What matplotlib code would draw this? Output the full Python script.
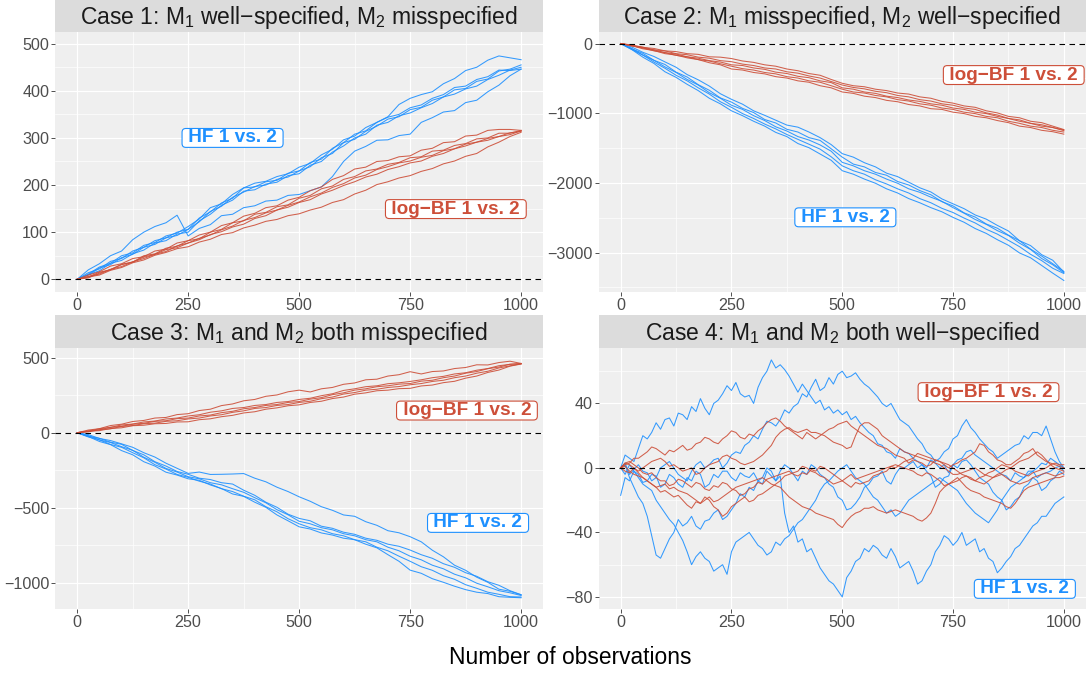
import numpy as np
import matplotlib
matplotlib.use("Agg")
import matplotlib.pyplot as plt

plt.rcParams['font.family'] = ['Liberation Sans', 'DejaVu Sans']
plt.rcParams['mathtext.fontset'] = 'custom'
plt.rcParams['mathtext.rm'] = 'Liberation Sans'
plt.rcParams['mathtext.it'] = 'Liberation Sans:italic'
plt.rcParams['mathtext.bf'] = 'Liberation Sans:bold'

# ---------------- data ----------------
# Panels 1-3: values every 25 observations (0..1000); panel 4: every 10 observations
p1_hf = [
    [0, 14, 22, 38, 44, 60, 68, 82, 88, 100, 106, 130, 143, 162, 172, 194, 196, 207, 210, 225, 230, 248, 255, 278, 290, 308, 315, 333, 345, 371, 384, 392, 398, 415, 426, 443, 450, 465, 474, 470, 466],
    [0, 9, 24, 31, 46, 53, 68, 74, 88, 93, 106, 122, 144, 155, 174, 185, 197, 200, 212, 217, 230, 239, 258, 267, 290, 297, 314, 325, 340, 345, 360, 365, 380, 387, 402, 405, 420, 425, 442, 446, 455],
    [0, 10, 18, 34, 40, 54, 62, 77, 82, 96, 100, 124, 138, 157, 168, 187, 190, 202, 206, 220, 224, 242, 250, 270, 283, 300, 308, 327, 333, 347, 353, 364, 373, 387, 393, 404, 410, 424, 433, 444, 450],
    [0, 11, 26, 34, 50, 56, 72, 78, 92, 98, 112, 128, 152, 160, 180, 194, 204, 208, 218, 224, 238, 246, 264, 276, 296, 304, 322, 333, 344, 350, 364, 370, 384, 392, 407, 410, 424, 430, 444, 443, 446],
    [0, 20, 33, 50, 60, 84, 100, 112, 120, 136, 92, 108, 116, 135, 138, 152, 156, 166, 168, 178, 180, 188, 196, 218, 250, 272, 282, 295, 296, 305, 308, 333, 343, 355, 358, 375, 380, 398, 412, 432, 446],
]
p1_bf = [
    [0, 9, 16, 28, 33, 44, 48, 60, 64, 77, 82, 94, 100, 114, 120, 134, 140, 152, 156, 168, 174, 188, 196, 212, 220, 234, 238, 250, 252, 260, 262, 274, 278, 290, 292, 304, 306, 316, 318, 318, 316],
    [0, 5, 15, 20, 32, 36, 50, 54, 66, 70, 82, 86, 100, 106, 120, 124, 138, 142, 154, 158, 172, 178, 192, 198, 212, 218, 230, 234, 244, 248, 258, 260, 272, 274, 284, 288, 298, 300, 310, 310, 316],
    [0, 6, 11, 21, 27, 37, 44, 53, 59, 71, 77, 87, 94, 105, 113, 125, 131, 141, 147, 157, 164, 175, 183, 195, 203, 215, 221, 233, 239, 247, 251, 259, 263, 273, 277, 287, 291, 299, 303, 311, 314],
    [0, 3, 13, 21, 31, 37, 47, 53, 63, 67, 77, 84, 95, 101, 111, 117, 129, 135, 147, 153, 163, 169, 181, 189, 199, 207, 217, 223, 233, 239, 247, 251, 261, 267, 277, 283, 291, 295, 303, 307, 315],
    [0, 5, 9, 19, 25, 35, 41, 51, 57, 65, 69, 79, 85, 95, 99, 109, 115, 123, 127, 135, 139, 147, 153, 163, 169, 181, 189, 201, 207, 215, 220, 229, 235, 245, 251, 261, 267, 281, 291, 303, 312],
]
p2_hf = [
    [0, -50, -125, -185, -263, -340, -445, -520, -610, -720, -800, -870, -965, -1030, -1100, -1170, -1200, -1270, -1350, -1450, -1580, -1630, -1710, -1770, -1860, -1910, -1990, -2070, -2130, -2230, -2300, -2370, -2460, -2520, -2610, -2690, -2830, -2900, -3030, -3110, -3280],
    [0, -75, -140, -240, -300, -410, -480, -590, -670, -780, -840, -930, -990, -1090, -1140, -1230, -1270, -1350, -1390, -1510, -1630, -1730, -1770, -1850, -1890, -1980, -2030, -2110, -2170, -2270, -2330, -2430, -2490, -2590, -2650, -2750, -2830, -2950, -3050, -3160, -3270],
    [0, -70, -165, -240, -335, -415, -515, -595, -705, -785, -885, -945, -1035, -1105, -1195, -1255, -1335, -1385, -1455, -1545, -1705, -1755, -1825, -1875, -1945, -2005, -2085, -2135, -2205, -2265, -2355, -2435, -2525, -2595, -2685, -2755, -2865, -2955, -3085, -3175, -3290],
    [0, -85, -165, -265, -355, -455, -535, -635, -725, -835, -915, -1005, -1075, -1155, -1225, -1305, -1375, -1445, -1515, -1625, -1755, -1825, -1875, -1955, -2015, -2085, -2145, -2225, -2285, -2365, -2425, -2505, -2575, -2665, -2735, -2825, -2915, -3025, -3115, -3225, -3300],
    [0, -85, -195, -285, -405, -485, -585, -675, -785, -865, -965, -1035, -1115, -1185, -1275, -1335, -1435, -1495, -1585, -1675, -1825, -1875, -1945, -2005, -2085, -2145, -2225, -2285, -2355, -2415, -2495, -2565, -2655, -2725, -2815, -2895, -3005, -3075, -3185, -3295, -3400],
]
p2_bf = [
    [0, -20, -55, -70, -105, -115, -145, -155, -190, -195, -215, -250, -270, -305, -325, -365, -390, -430, -455, -515, -570, -605, -620, -655, -675, -710, -725, -765, -785, -830, -855, -895, -915, -965, -995, -1045, -1065, -1115, -1135, -1185, -1234],
    [0, -32, -50, -90, -105, -145, -160, -195, -210, -245, -260, -295, -315, -350, -365, -405, -425, -465, -495, -545, -595, -630, -650, -685, -705, -745, -765, -805, -825, -865, -885, -925, -945, -995, -1025, -1075, -1095, -1145, -1165, -1205, -1240],
    [0, -25, -65, -90, -130, -150, -190, -210, -245, -265, -305, -315, -350, -370, -410, -430, -470, -490, -535, -560, -635, -655, -695, -715, -755, -775, -810, -830, -865, -885, -925, -945, -985, -1005, -1045, -1075, -1115, -1145, -1185, -1205, -1250],
    [0, -35, -60, -105, -130, -170, -190, -230, -250, -290, -325, -360, -380, -415, -435, -475, -495, -535, -555, -605, -655, -695, -710, -745, -765, -805, -825, -865, -885, -925, -945, -985, -1005, -1045, -1065, -1115, -1145, -1185, -1205, -1245, -1270],
    [0, -30, -75, -100, -145, -165, -205, -230, -275, -305, -365, -380, -415, -435, -475, -495, -535, -555, -605, -635, -695, -715, -755, -775, -815, -835, -875, -895, -935, -945, -985, -1005, -1045, -1065, -1105, -1135, -1185, -1205, -1245, -1265, -1300],
]
p3_hf = [
    [0, -12, -38, -52, -74, -97, -133, -162, -203, -237, -271, -262, -278, -277, -275, -272, -303, -327, -363, -392, -427, -457, -493, -517, -548, -557, -593, -617, -653, -667, -693, -727, -783, -827, -883, -917, -963, -997, -1043, -1057, -1080],
    [0, -23, -37, -63, -77, -118, -147, -193, -222, -258, -277, -303, -312, -333, -342, -383, -417, -463, -497, -543, -571, -587, -623, -637, -663, -677, -703, -717, -743, -757, -782, -813, -837, -873, -897, -933, -957, -993, -1017, -1053, -1080],
    [0, -19, -48, -65, -93, -117, -163, -197, -238, -262, -293, -307, -333, -347, -373, -397, -433, -467, -513, -547, -590, -607, -633, -647, -673, -687, -713, -727, -763, -787, -823, -847, -883, -907, -943, -967, -1003, -1027, -1053, -1067, -1085],
    [0, -28, -47, -78, -97, -133, -167, -213, -242, -278, -297, -323, -342, -373, -392, -423, -447, -493, -527, -573, -607, -633, -647, -673, -687, -713, -727, -763, -787, -823, -857, -893, -917, -953, -977, -1013, -1037, -1063, -1077, -1093, -1095],
    [0, -25, -58, -79, -119, -147, -193, -222, -263, -282, -307, -317, -348, -372, -408, -424, -463, -497, -548, -587, -627, -642, -668, -682, -703, -713, -743, -767, -813, -857, -916, -937, -973, -997, -1023, -1046, -1063, -1072, -1093, -1097, -1100],
]
p3_bf = [
    [0, 18, 27, 48, 57, 75, 82, 98, 102, 121, 127, 148, 157, 181, 192, 213, 222, 243, 252, 273, 284, 272, 293, 302, 323, 332, 353, 357, 378, 387, 407, 392, 408, 412, 428, 435, 453, 452, 468, 477, 462],
    [0, 10, 27, 36, 52, 58, 72, 78, 92, 98, 112, 120, 137, 146, 162, 168, 182, 188, 202, 208, 222, 230, 247, 260, 282, 293, 307, 313, 327, 333, 342, 353, 367, 376, 392, 400, 417, 428, 447, 456, 462],
    [0, 12, 20, 36, 43, 57, 63, 76, 80, 94, 98, 112, 118, 134, 143, 160, 168, 182, 188, 202, 208, 224, 234, 254, 266, 284, 293, 307, 313, 324, 328, 344, 350, 367, 378, 397, 408, 427, 438, 457, 460],
    [0, 6, 20, 26, 42, 48, 60, 64, 76, 80, 92, 98, 112, 120, 136, 146, 162, 168, 182, 188, 202, 210, 227, 238, 258, 268, 284, 290, 302, 308, 320, 328, 342, 350, 367, 378, 397, 410, 432, 446, 460],
    [0, 10, 14, 28, 33, 47, 50, 60, 62, 72, 73, 87, 93, 107, 116, 132, 140, 157, 166, 180, 186, 202, 210, 228, 238, 257, 266, 280, 284, 294, 296, 312, 318, 334, 343, 364, 378, 402, 418, 444, 458],
]
p4_hf = [
    [0, 8, 6, 4, 12, 20, 18, 22, 28, 24, 30, 31, 26, 34, 33, 30, 38, 35, 43, 37,
     33, 40, 42, 46, 51, 48, 53, 46, 44, 45, 40, 50, 56, 60, 67, 62, 64, 61, 57, 52,
     47, 52, 48, 44, 40, 42, 36, 38, 34, 36, 33, 35, 30, 32, 28, 25, 22, 20, 15, 14,
     10, 9, 6, 12, 10, 9, 6, 4, 2, 0, 5, 3, 0, 2, -3, 2, 5, 6, 10, 11,
     8, 6, 4, 2, 0, -2, -4, -5, -8, -3, -5, -6, -2, -2, -6, -4, -3, -2, 0, 1, -2],
    [0, 3, -4, -1, 2, -2, -3, -8, -6, 0, 2, 4, 0, -4, -6, -8, -2, 2, 4, 0,
     2, 5, 6, 0, 3, 8, 10, 9, 14, 16, 20, 18, 24, 29, 28, 26, 30, 36, 34, 38,
     40, 46, 44, 50, 55, 48, 50, 56, 52, 58, 60, 56, 57, 59, 55, 52, 50, 47, 44, 40,
     38, 40, 35, 30, 28, 26, 22, 18, 15, 10, 8, 4, 6, 10, 12, 18, 20, 26, 30, 25,
     22, 18, 15, 12, 10, 6, 8, 10, 12, 14, 15, 20, 18, 22, 22, 20, 26, 18, 10, 4, 0],
    [-17, -6, -8, -2, -4, -9, -8, -4, -5, -12, -10, -4, -6, -10, -12, -6, -8, -2, -4, -12,
     -10, -4, -6, -2, -2, -6, -8, -3, -5, -6, -3, -8, -6, 0, -2, -8, -5, -28, -40, -36,
     -46, -44, -52, -50, -56, -62, -66, -70, -72, -76, -80, -68, -64, -58, -56, -50, -52, -48, -50, -54,
     -56, -50, -55, -62, -60, -58, -64, -72, -70, -64, -60, -52, -48, -42, -44, -48, -45, -40, -48, -46,
     -44, -52, -50, -56, -58, -65, -62, -58, -55, -50, -48, -44, -40, -36, -34, -30, -30, -26, -22, -20, -18],
    [0, 2, -6, -12, -18, -22, -30, -42, -54, -56, -50, -44, -40, -32, -36, -34, -30, -36, -38, -33,
     -32, -28, -26, -32, -30, -26, -22, -16, -18, -12, -14, -8, -10, -2, -5, -8, -2, 2, 0, -4,
     -8, -2, -4, 2, 0, -4, -6, -10, -12, -18, -20, -26, -25, -22, -18, -12, -10, -6, -5, -2,
     -8, -10, -4, 0, 0, 2, 4, 0, 2, -2, -5, -12, -10, -6, -5, 2, 0, 4, 5, 2,
     -2, -6, -8, -10, -15, -18, -20, -26, -24, -20, -18, -12, -10, -6, -8, -14, -12, -8, -6, -2, -4],
    [0, -4, 2, -2, -6, -10, -12, -14, -20, -24, -28, -32, -35, -40, -45, -52, -60, -55, -52, -56,
     -58, -64, -62, -60, -66, -52, -46, -44, -42, -40, -44, -48, -50, -54, -52, -46, -48, -44, -42, -38,
     -34, -32, -28, -24, -20, -14, -10, -8, -5, -2, 0, 2, -2, -6, -8, -10, -14, -18, -20, -24,
     -28, -26, -30, -28, -24, -20, -18, -16, -14, -12, -10, -8, -6, -8, -10, -12, -14, -18, -22, -25,
     -28, -30, -32, -34, -30, -26, -20, -16, -12, -10, -8, -6, -4, -2, 0, 3, 2, 6, 4, 2, 0],
]
p4_bf = [
    [0, 2, 3, 6, 6, 8, 10, 13, 12, 10, 8, 11, 10, 12, 14, 11, 12, 15, 16, 19,
     18, 16, 15, 18, 20, 23, 22, 19, 18, 21, 20, 23, 25, 28, 30, 31, 29, 26, 24, 22,
     20, 18, 22, 20, 18, 20, 22, 24, 25, 27, 28, 29, 26, 24, 22, 20, 18, 16, 14, 13,
     12, 10, 8, 7, 6, 3, 5, 4, 3, 1, 2, 5, 4, 2, 0, 2, 3, 5, 6, 8,
     10, 15, 14, 10, 8, 5, 4, 2, 2, 4, 6, 9, 10, 12, 8, 6, 4, 3, 2, 1, 0],
    [0, -2, -3, 0, -2, 0, 2, 4, 5, 6, 4, 1, 2, 0, -2, -1, 0, -4, -3, 0,
     2, 3, 4, 7, 8, 6, 5, 3, 2, 3, 4, 6, 8, 11, 14, 19, 22, 24, 25, 23,
     22, 23, 24, 22, 22, 21, 20, 18, 16, 15, 14, 12, 13, 20, 26, 28, 28, 26, 24, 20,
     18, 16, 14, 12, 10, 9, 8, 7, 6, 5, 4, 3, 2, 0, -2, -4, -4, -3, -2, -1,
     0, -2, -4, -5, -6, -4, -3, -1, 0, 2, 4, 5, 6, 8, 10, 8, 5, 2, 0, -1, -2],
    [0, 1, -2, -4, -5, -6, -8, -10, -12, -11, -10, -13, -12, -14, -15, -16, -18, -20, -22, -20,
     -18, -21, -20, -18, -16, -14, -12, -11, -10, -9, -8, -7, -6, -8, -10, -11, -12, -15, -18, -20,
     -22, -24, -25, -26, -28, -29, -30, -31, -32, -35, -37, -33, -30, -28, -27, -25, -25, -24, -26, -27,
     -28, -27, -26, -27, -28, -29, -30, -32, -33, -31, -28, -22, -15, -12, -10, -9, -8, -6, -5, -6,
     -8, -9, -10, -8, -6, -5, -4, -6, -8, -9, -10, -9, -8, -6, -5, -4, -3, -4, -5, -4, -3],
    [0, 3, 2, 0, -3, -6, -8, -10, -12, -15, -14, -16, -18, -17, -20, -23, -25, -21, -22, -18,
     -20, -24, -26, -30, -28, -24, -22, -20, -18, -21, -20, -17, -16, -14, -12, -10, -8, -5, -4, -3,
     -2, 1, 0, -2, -3, -5, -6, -8, -10, -9, -8, -6, -4, -7, -6, -5, -4, -3, -2, -1,
     0, 1, 2, 1, 0, -1, -2, -4, -5, -3, -4, -6, -8, -11, -10, -8, -6, -9, -12, -14,
     -15, -16, -18, -19, -20, -21, -22, -24, -25, -22, -18, -14, -12, -11, -10, -9, -8, -7, -6, -6, -5],
    [0, 3, 4, 2, 0, -3, -4, -3, -6, -8, -8, -11, -10, -7, -8, -10, -12, -9, -10, -13,
     -14, -11, -12, -9, -10, -13, -14, -17, -16, -13, -12, -9, -10, -7, -6, -5, -4, -3, -2, -4,
     -5, -3, -4, -1, -2, 1, 0, -2, -4, -6, -8, -10, -12, -9, -10, -9, -8, -5, -4, -3,
     -2, 1, 0, 2, 4, 5, 6, 9, 8, 7, 6, 5, 4, 3, 2, 0, -2, -4, -5, -7,
     -8, -6, -5, -3, -2, 0, 2, 1, 0, -2, -3, -4, -5, -3, -2, -1, 0, 2, 3, 2, 2],
]

titles = [
    r"Case 1: M$_{\mathregular{1}}$ well−specified, M$_{\mathregular{2}}$ misspecified",
    r"Case 2: M$_{\mathregular{1}}$ misspecified, M$_{\mathregular{2}}$ well−specified",
    r"Case 3: M$_{\mathregular{1}}$ and M$_{\mathregular{2}}$ both misspecified",
    r"Case 4: M$_{\mathregular{1}}$ and M$_{\mathregular{2}}$ both well−specified",
]
hf_label = "HF 1 vs. 2"
bf_label = "log−BF 1 vs. 2"
x_ticks = [0, 250, 500, 750, 1000]
y_ticks = [[0, 100, 200, 300, 400, 500], [0, -1000, -2000, -3000],
           [500, 0, -500, -1000], [40, 0, -40, -80]]

# ---------------- layout / style ----------------
W, H = 1086, 673
BLUE = "#1E90FF"
RED = "#CD4F39"
PANEL_BG = "#EFEFEF"
STRIP_BG = "#DCDCDC"

fig = plt.figure(figsize=(W / 100, H / 100), dpi=100)


def px_axes(left, top, right, bottom):
    return fig.add_axes([left / W, 1 - bottom / H, (right - left) / W, (bottom - top) / H])


layout = [
    dict(box=(55, 32, 543.3, 292.3), strip=(0, 32), ylim=(-27.6, 524.8),
         minor=[50, 150, 250, 350, 450], hf_pos=(350, 300), bf_pos=(853, 149)),
    dict(box=(598.5, 32, 1086, 292.3), strip=(0, 32), ylim=(-3570, 166),
         minor=[-500, -1500, -2500, -3500], hf_pos=(507, -2494), bf_pos=(887, -452)),
    dict(box=(55, 348.3, 543.3, 608.7), strip=(315, 348.3), ylim=(-1173, 563),
         minor=[250, -250, -750], hf_pos=(903, -601), bf_pos=(878, 148)),
    dict(box=(598.5, 348.3, 1086, 608.7), strip=(315, 348.3), ylim=(-87.3, 74.2),
         minor=[60, 20, -20, -60], hf_pos=(912, -75), bf_pos=(830, 47)),
]
hf_sets = [p1_hf, p2_hf, p3_hf, p4_hf]
bf_sets = [p1_bf, p2_bf, p3_bf, p4_bf]


def fmt(v):
    return str(int(v)).replace('-', '\u2212')


for i, lay in enumerate(layout):
    l, t, r, b = lay['box']
    ax = px_axes(l, t, r, b)
    ax.set_facecolor(PANEL_BG)
    for s in ax.spines.values():
        s.set_visible(False)
    ax.set_xlim(-50, 1050)
    ax.set_ylim(*lay['ylim'])
    ax.set_xticks(x_ticks)
    ax.set_xticklabels([fmt(v) for v in x_ticks])
    ax.set_xticks([125, 375, 625, 875], minor=True)
    ax.set_yticks(y_ticks[i])
    ax.set_yticklabels([fmt(v) for v in y_ticks[i]])
    ax.set_yticks(lay['minor'], minor=True)
    ax.set_axisbelow(True)
    ax.grid(which='major', color='white', lw=0.85)
    ax.grid(which='minor', color='white', lw=0.45)
    ax.tick_params(which='major', length=2.6, width=0.6, color='#333333',
                   labelcolor='#4D4D4D', labelsize=11.6, pad=1.6)
    ax.tick_params(which='minor', length=0)

    for y in hf_sets[i]:
        xs = np.linspace(0, 1000, len(y))
        ax.plot(xs, y, color=BLUE, lw=0.75, alpha=0.9, solid_joinstyle='round')
    for y in bf_sets[i]:
        xs = np.linspace(0, 1000, len(y))
        ax.plot(xs, y, color=RED, lw=0.75, alpha=0.9, solid_joinstyle='round')
    ax.axhline(0, color='black', lw=0.8, linestyle=(0, (5, 4)))

    for text, pos, col in [(hf_label, lay['hf_pos'], BLUE), (bf_label, lay['bf_pos'], RED)]:
        ax.text(pos[0], pos[1], " " + text + " ", ha='center', va='center', color=col,
                fontsize=13.7, fontweight='bold', zorder=5,
                bbox=dict(boxstyle='round,pad=0.05,rounding_size=0.2', fc='white',
                          ec=col, lw=0.8))

    st, sb = lay['strip']
    sax = px_axes(l, st, r, sb)
    sax.set_facecolor(STRIP_BG)
    sax.set_xticks([])
    sax.set_yticks([])
    for s in sax.spines.values():
        s.set_visible(False)
    sax.text(0.5, 0.45, titles[i], ha='center', va='center', fontsize=16.5,
             color='#1A1A1A', transform=sax.transAxes)

fig.text(570.5 / W, 1 - 657 / H, "Number of observations", ha='center', va='center',
         fontsize=16.4, color='black')

fig.savefig("out.png", dpi=100)
